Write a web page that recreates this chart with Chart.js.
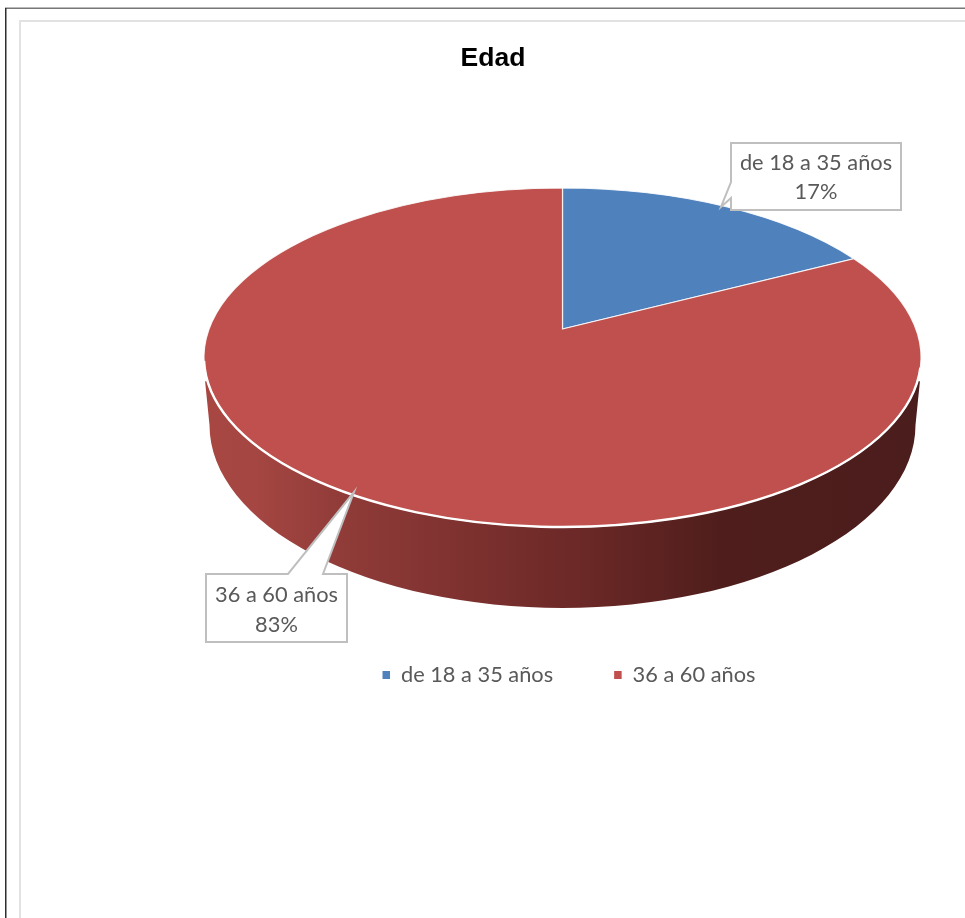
<!DOCTYPE html>
<html><head><meta charset="utf-8">
<style>html,body{margin:0;padding:0;background:#fff}canvas{display:block}</style>
<script src="https://cdn.jsdelivr.net/npm/chart.js@4"></script>
</head><body><canvas id="c" width="965" height="918"></canvas>
<script>
const chartTitle = 'Edad';
const categories = ['de 18 a 35 años', '36 a 60 años'];
const values = [17.4, 82.6];
const sliceColors = ['#4f81bd', '#bf504d'];
const labelColor = '#595959';
const labelFont = '21.8px Lato, "Open Sans", sans-serif';

// projection of the flat pie
const squash = 169.5 / 358.5, apexShift = 0.168;
const wallDrop = 67.5 / 358.5, wallNarrow = 353 / 358.5, wallSquash = 183 / 353;

function project(theta) {
  const x = Math.sin(theta), y = Math.cos(theta), d = 1 + apexShift * y;
  return { x: x * Math.sqrt(1 - apexShift * apexShift) / d, y: (y + apexShift) / d };
}

const frame = {
  id: 'frame',
  beforeDraw(chart) {
    const c = chart.ctx, W = chart.width, H = chart.height;
    c.save();
    c.fillStyle = '#fff'; c.fillRect(0, 0, W, H);
    c.fillStyle = '#e2e2e2'; c.fillRect(19, 20, 2, H); c.fillRect(19, 20, W, 2);
    c.fillStyle = '#777'; c.fillRect(5, 7.5, W, 1.5);
    c.fillStyle = '#2e2e2e'; c.fillRect(5, 8, 1.5, H);
    c.restore();
  }
};

const placement = {
  id: 'placement',
  afterLayout(chart) {
    chart.titleBlock.left = 21; chart.titleBlock.right = 965;
    chart.legend.left += 6.5; chart.legend.right += 6.5;
  }
};

const pie3d = {
  id: 'pie3d',
  beforeDatasetDraw(chart) {
    const c = chart.ctx, meta = chart.getDatasetMeta(0);
    const a0 = meta.data[0], cx = a0.x, cy = a0.y, rx = a0.outerRadius, ry = rx * squash;
    // side wall
    const bx = rx * wallNarrow, by = bx * wallSquash, bcy = cy + rx * wallDrop;
    const g = c.createLinearGradient(cx - rx, 0, cx + rx, 0);
    g.addColorStop(0, '#a84742');
    g.addColorStop(0.07, '#a54642');
    g.addColorStop(0.2, '#8f3b38');
    g.addColorStop(0.35, '#7f3230');
    g.addColorStop(0.55, '#682725');
    g.addColorStop(0.72, '#4f1e1c');
    g.addColorStop(1, '#4b1d1c');
    c.save();
    c.beginPath();
    c.moveTo(cx + rx * 0.997, cy + ry * 0.14);
    c.lineTo(cx + bx, bcy);
    c.ellipse(cx, bcy, bx, by, 0, 0, Math.PI);
    c.lineTo(cx - rx * 0.997, cy + ry * 0.14);
    c.closePath();
    c.fillStyle = g; c.fill();
    // top faces
    meta.data.forEach((arc, i) => {
      const s = project(arc.startAngle + Math.PI / 2), e = project(arc.endAngle + Math.PI / 2);
      const as = Math.atan2(-s.y, s.x), ae = Math.atan2(-e.y, e.x);
      c.beginPath();
      c.moveTo(cx, cy - ry * apexShift);
      c.ellipse(cx, cy, rx, ry, 0, as, ae);
      c.closePath();
      c.fillStyle = sliceColors[i];
      c.fill();
      c.strokeStyle = 'rgba(255,255,255,0.85)'; c.lineWidth = 1.2; c.stroke();
    });
    // bright rim along the front edge
    c.beginPath();
    c.ellipse(cx, cy, rx, ry, 0, 0.06, Math.PI - 0.02);
    c.strokeStyle = '#fff'; c.lineWidth = 2.4; c.stroke();
    c.restore();
    return false;
  }
};

const callouts = [
  { box: [731, 143, 901, 210], line1: 163, line2: 192, path: [[731, 182], [721, 207], [731, 198]] },
  { box: [206, 574, 347, 642], line1: 595, line2: 625, path: [[323, 574], [354, 492], [288, 574]] }
];
const calloutPlugin = {
  id: 'callouts',
  afterDraw(chart) {
    const c = chart.ctx;
    c.save();
    callouts.forEach((o, i) => {
      const [l, t, r, b] = o.box;
      c.beginPath();
      if (i === 0) {
        c.moveTo(l, t); c.lineTo(r, t); c.lineTo(r, b); c.lineTo(l, b);
        o.path.slice().reverse().forEach(p => c.lineTo(p[0], p[1]));
      } else {
        c.moveTo(l, t); o.path.slice().reverse().forEach(p => c.lineTo(p[0], p[1]));
        c.lineTo(r, t); c.lineTo(r, b); c.lineTo(l, b);
      }
      c.closePath();
      c.fillStyle = '#fff'; c.fill();
      c.strokeStyle = '#bfbfbf'; c.lineWidth = 2; c.stroke();
      c.fillStyle = labelColor; c.font = labelFont;
      c.textAlign = 'center'; c.textBaseline = 'middle';
      c.fillText(categories[i], (l + r) / 2, o.line1);
      c.fillText(Math.round(values[i]) + '%', (l + r) / 2, o.line2);
    });
    c.restore();
  }
};

new Chart(document.getElementById('c'), {
  type: 'pie',
  data: { labels: categories, datasets: [{ data: values, backgroundColor: sliceColors, radius: 358.5, borderWidth: 0 }] },
  plugins: [frame, placement, pie3d, calloutPlugin],
  options: {
    responsive: false,
    animation: false,
    layout: { padding: { left: 204, right: 44, top: 0, bottom: 222 } },
    plugins: {
      tooltip: { enabled: false },
      title: {
        display: true, text: chartTitle, color: '#000',
        font: { family: '"Liberation Sans"', size: 26.5, weight: 'bold', lineHeight: 1.2 },
        padding: { top: 43, bottom: 37 }
      },
      legend: {
        display: true, position: 'bottom',
        labels: {
          color: labelColor, boxWidth: 7.5, boxHeight: 8, padding: 61,
          font: { family: 'Lato, "Open Sans", sans-serif', size: 21.8 }
        }
      }
    }
  }
});
</script></body></html>
